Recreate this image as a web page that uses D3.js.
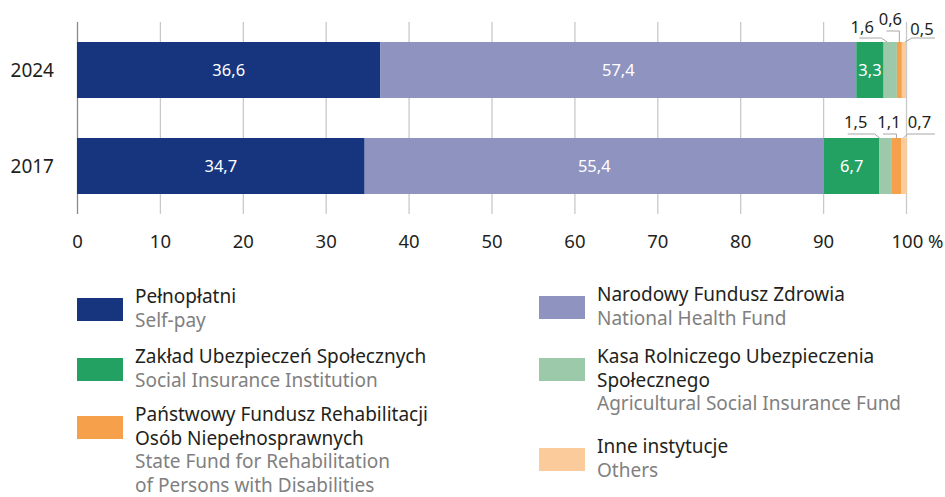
<!DOCTYPE html>
<html>
<head>
<meta charset="utf-8">
<script src="https://cdn.jsdelivr.net/npm/d3@7"></script>
<style>
  body { margin: 0; background: #fff; }
  svg { display: block; font-family: "Noto Sans", sans-serif; }
</style>
</head>
<body>
<svg id="chart"></svg>
<script>
var width = 945;
var height = 497;

// data
var years = ["2024", "2017"];
var seriesPl = ["Pełnopłatni", "Narodowy Fundusz Zdrowia", "Zakład Ubezpieczeń Społecznych",
  "Kasa Rolniczego Ubezpieczenia Społecznego", "Państwowy Fundusz Rehabilitacji Osób Niepełnosprawnych", "Inne instytucje"];
var values2024 = [36.6, 57.4, 3.3, 1.6, 0.6, 0.5];
var values2017 = [34.7, 55.4, 6.7, 1.5, 1.1, 0.7];
var xTicks = [0, 10, 20, 30, 40, 50, 60, 70, 80, 90, 100];

var colors = ["#17357f", "#8f93c0", "#23a162", "#9bc9a9", "#f6a04b", "#fbcb9c"];

var svg = d3.select("#chart").attr("width", width).attr("height", height);

var x = d3.scaleLinear().domain([0, 100]).range([77, 906]);
var y = d3.scaleBand().domain(years).range([42, 194]).paddingInner(0.4167).paddingOuter(0);

var gridTop = 22, gridBottom = 214;

// grid + axis
var axis = svg.append("g")
  .attr("transform", `translate(0,${gridBottom})`)
  .call(d3.axisBottom(x).tickValues(xTicks).tickSize(-(gridBottom - gridTop)).tickPadding(21)
    .tickFormat(d => d));
axis.select(".domain").remove();
axis.selectAll(".tick line").attr("stroke", d => d === 0 ? "#8a8a8a" : "#c9c9c9").attr("stroke-width", 1.3);
axis.selectAll(".tick text").attr("font-size", 18.5).attr("fill", "#231f20")
  .attr("font-family", "Noto Sans");
axis.selectAll(".tick").filter(d => d === 100).select("text")
  .attr("text-anchor", "start").attr("x", -15).text("100 %");

// stacked bars
var rows = years.map(function (yr, i) {
  var vals = i === 0 ? values2024 : values2017;
  var acc = 0;
  return vals.map(function (v, j) {
    var seg = { year: yr, idx: j, value: v, x0: acc, x1: acc + v };
    acc += v;
    return seg;
  });
});

var barG = svg.append("g");
rows.forEach(function (segs) {
  barG.selectAll(null)
    .data(segs)
    .enter().append("rect")
    .attr("x", d => x(d.x0))
    .attr("y", d => y(d.year))
    .attr("width", d => x(d.x1) - x(d.x0))
    .attr("height", y.bandwidth())
    .attr("fill", d => colors[d.idx]);

  barG.selectAll(null)
    .data(segs.filter(d => d.idx < 3))
    .enter().append("text")
    .attr("x", d => (x(d.x0) + x(d.x1)) / 2)
    .attr("y", d => y(d.year) + y.bandwidth() / 2)
    .attr("dy", "0.36em")
    .attr("text-anchor", "middle")
    .attr("fill", "#fff")
    .attr("font-size", 16.5)
    .text(d => String(d.value).replace(".", ","));
});

// small labels with leader lines: [text dx, text dy (from bar top), leader points]
var leaders = {
  "2024": [
    [-28, -9, [[-31, -4], [-9, -4], [-3, 0]]],
    [-9, -17, [[-13, -11], [0, -11], [0, 0]]],
    [18, -7, [[1, 0], [8, -4], [31, -4]]]
  ],
  "2017": [
    [-30, -10, [[-38, -4], [-11, -4], [-6, 0]]],
    [-7.5, -10, [[-13.5, -4], [0, -4], [0, 0]]],
    [15.5, -10, [[-0.5, 0], [3.5, -4], [31, -4]]]
  ]
};

var line = d3.line();
rows.forEach(function (segs) {
  segs.filter(d => d.idx >= 3).forEach(function (d) {
    var cfg = leaders[d.year][d.idx - 3];
    var cx = (x(d.x0) + x(d.x1)) / 2;
    var top = y(d.year);
    svg.append("path")
      .attr("d", line(cfg[2].map(p => [cx + p[0], top + p[1]])))
      .attr("fill", "none")
      .attr("stroke", "#a8a8a8")
      .attr("stroke-width", 1);
    svg.append("text")
      .attr("x", cx + cfg[0])
      .attr("y", top + cfg[1])
      .attr("text-anchor", "middle")
      .attr("font-size", 16.5)
      .attr("fill", "#231f20")
      .text(String(d.value).replace(".", ","));
  });
});

// year labels
svg.selectAll(".yearLabel")
  .data(years)
  .enter().append("text")
  .attr("class", "yearLabel")
  .attr("x", 54)
  .attr("y", d => y(d) + y.bandwidth() / 2)
  .attr("dy", "0.36em")
  .attr("text-anchor", "end")
  .attr("font-size", 19)
  .attr("fill", "#231f20")
  .text(d => d);

// legend
var legendItems = [
  { idx: 0, col: 0, rectY: 298, pl: ["Pełnopłatni"], en: ["Self-pay"] },
  { idx: 2, col: 0, rectY: 358, pl: ["Zakład Ubezpieczeń Społecznych"], en: ["Social Insurance Institution"] },
  { idx: 4, col: 0, rectY: 416, pl: ["Państwowy Fundusz Rehabilitacji", "Osób Niepełnosprawnych"], en: ["State Fund for Rehabilitation", "of Persons with Disabilities"] },
  { idx: 1, col: 1, rectY: 296, pl: ["Narodowy Fundusz Zdrowia"], en: ["National Health Fund"] },
  { idx: 3, col: 1, rectY: 358, pl: ["Kasa Rolniczego Ubezpieczenia", "Społecznego"], en: ["Agricultural Social Insurance Fund"] },
  { idx: 5, col: 1, rectY: 448, pl: ["Inne instytucje"], en: ["Others"] }
];
var colX = [77, 539];
var lineH = 23.5;

legendItems.forEach(function (it) {
  var g = svg.append("g").attr("transform", `translate(${colX[it.col]},${it.rectY})`);
  g.append("rect").attr("width", 46).attr("height", 23).attr("fill", colors[it.idx]);
  var lines = it.pl.map(t => ({ t: t, c: "#231f20" })).concat(it.en.map(t => ({ t: t, c: "#808080" })));
  g.selectAll("text")
    .data(lines)
    .enter().append("text")
    .attr("x", 58)
    .attr("y", (d, i) => 5 + i * lineH)
    .attr("font-size", 19)
    .attr("fill", d => d.c)
    .text(d => d.t);
});
</script>
</body>
</html>
